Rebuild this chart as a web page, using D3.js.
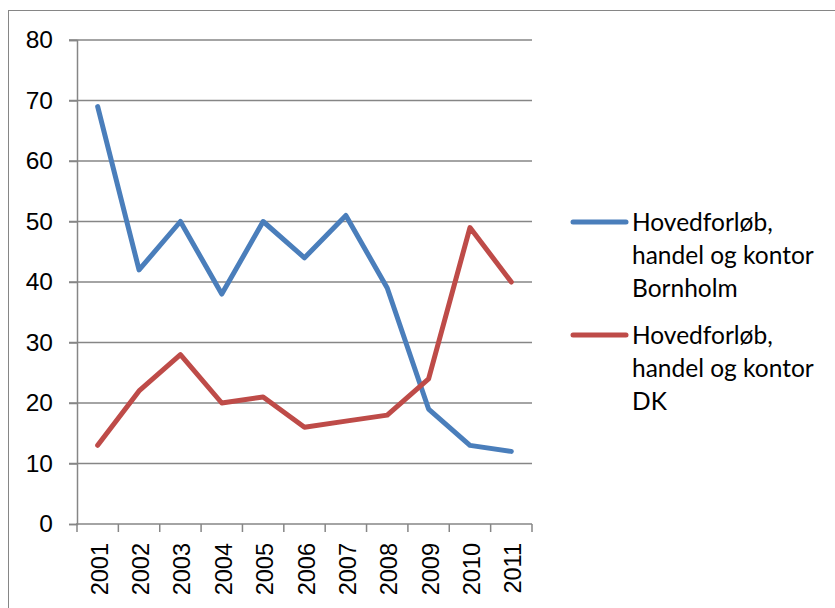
<!DOCTYPE html>
<meta charset="utf-8">
<script src="https://d3js.org/d3.v7.min.js"></script>
<style>
  body { margin: 0; background: #fff; }
  text { font-family: "Liberation Sans", Arial, sans-serif; fill: #000; }
  .legend text { font-family: "Lato", "Noto Sans", sans-serif; }
</style>
<body>
<svg width="835" height="608"></svg>
<script>
    let years = ['2001','2002','2003','2004','2005','2006','2007','2008','2009','2010','2011']
    let bornholm = [69, 42, 50, 38, 50, 44, 51, 39, 19, 13, 12]
    let dk = [13, 22, 28, 20, 21, 16, 17, 18, 24, 49, 40]
    let yTicks = [0, 10, 20, 30, 40, 50, 60, 70, 80]
    let seriesNames = [['Hovedforløb,', 'handel og kontor', 'Bornholm'], ['Hovedforløb,', 'handel og kontor', 'DK']]
    let colors = ['#4a7ebb', '#be4b48']

    let svg = d3.select('svg')

    // outer frame
    svg.append('rect').attr('x', 8.5).attr('y', 10.5).attr('width', 900).attr('height', 700)
        .attr('fill', 'none').attr('stroke', '#868686').attr('stroke-width', 1)

    let pLeft = 77, pRight = 532, pTop = 40, pBottom = 524

    let x = d3.scaleBand().domain(years).range([pLeft, pRight])
    let y = d3.scaleLinear().domain([0, 80]).range([pBottom, pTop])

    // gridlines
    svg.append('g').selectAll('line').data(yTicks.filter(d => d > 0)).enter().append('line')
        .attr('x1', pLeft - 8).attr('x2', pRight)
        .attr('y1', d => y(d)).attr('y2', d => y(d))
        .attr('stroke', '#868686').attr('stroke-width', 1.5)

    let yAxis = svg.append('g').attr('transform', `translate(${pLeft},0)`)
        .call(d3.axisLeft(y).tickValues(yTicks).tickSize(8).tickPadding(16))
    yAxis.attr('font-size', 24.5).attr('font-family', '"Liberation Sans", Arial, sans-serif')
    yAxis.select('.domain').attr('stroke', '#868686').attr('stroke-width', 1.5)
    yAxis.selectAll('.tick line').attr('stroke', '#868686').attr('stroke-width', 1.5)
    yAxis.selectAll('.tick text').attr('fill', '#000')

    // x axis with ticks at band edges
    let xg = svg.append('g')
    xg.append('line').attr('x1', pLeft - 1).attr('x2', pRight).attr('y1', pBottom).attr('y2', pBottom)
        .attr('stroke', '#868686').attr('stroke-width', 1.5)
    let edges = years.map(d => x(d)).concat([pRight])
    xg.selectAll('line.tk').data(edges).enter().append('line').attr('class', 'tk')
        .attr('x1', d => d).attr('x2', d => d).attr('y1', pBottom).attr('y2', pBottom + 8)
        .attr('stroke', '#868686').attr('stroke-width', 1.5)
    xg.selectAll('text').data(years).enter().append('text')
        .attr('transform', d => `translate(${x(d) + x.bandwidth() / 2 + 10},543) rotate(-90)`)
        .attr('text-anchor', 'end')
        .attr('font-size', 23.5)
        .text(d => d)

    let line = d3.line().x((d, i) => x(years[i]) + x.bandwidth() / 2).y(d => y(d))

    ;[bornholm, dk].forEach((s, i) => {
        svg.append('path').datum(s).attr('d', line)
            .attr('fill', 'none').attr('stroke', colors[i]).attr('stroke-width', 5)
            .attr('stroke-linejoin', 'round').attr('stroke-linecap', 'round')
    })

    // legend
    let legend = svg.append('g').attr('class', 'legend')
    let legY = [222, 335]
    seriesNames.forEach((names, i) => {
        legend.append('line').attr('x1', 573).attr('x2', 626).attr('y1', legY[i]).attr('y2', legY[i])
            .attr('stroke', colors[i]).attr('stroke-width', 5).attr('stroke-linecap', 'round')
        names.forEach((t, j) => {
            legend.append('text').attr('x', 632).attr('y', legY[i] + j * 33 + 8.5)
                .attr('font-size', 24.5).text(t)
        })
    })
</script>
</body>
